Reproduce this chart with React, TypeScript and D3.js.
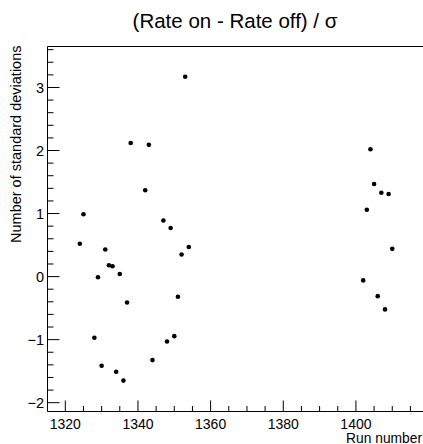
import React from "react";
import * as d3 from "d3";

const runs = [1324, 1325, 1328, 1329, 1330, 1331, 1332, 1333, 1334, 1335, 1336, 1337, 1338, 1342, 1343, 1344, 1347, 1348, 1349, 1350, 1351, 1352, 1353, 1354, 1402, 1403, 1404, 1405, 1406, 1407, 1408, 1409, 1410];
const deviations = [0.52, 0.99, -0.97, -0.01, -1.415, 0.43, 0.18, 0.165, -1.51, 0.04, -1.65, -0.41, 2.12, 1.37, 2.09, -1.325, 0.89, -1.03, 0.77, -0.945, -0.32, 0.35, 3.17, 0.47, -0.06, 1.06, 2.02, 1.47, -0.31, 1.33, -0.52, 1.31, 0.44];
const xMajorTicks = [1320, 1340, 1360, 1380, 1400];
const yMajorTicks = [-2, -1, 0, 1, 2, 3];
const xDomain = [1315.1, 1418.6];
const yDomain = [-2.14, 3.65];

const W = 423, H = 444;
const L = 47.5, R = 423.5, T = 46.5, B = 411.5;
const FONT = "'Liberation Sans', Arial, Helvetica, sans-serif";

export default function App() {
  const x = d3.scaleLinear().domain(xDomain).range([L, R]);
  const y = d3.scaleLinear().domain(yDomain).range([B, T]);
  const xMinor = d3.range(1320, 1419, 5).filter((v) => !xMajorTicks.includes(v) && v > xDomain[0] && v < xDomain[1]);
  const yMinor = d3.range(-2.0, 3.66, 0.2).map((v) => Math.round(v * 10) / 10).filter((v) => !yMajorTicks.includes(v) && v >= yDomain[0] && v <= yDomain[1]);
  const data = runs.map((r, i) => ({ r, v: deviations[i] }));
  return (
    <svg width={W} height={H} style={{ position: "fixed", left: 0, top: 0, background: "#fff" }} fontFamily={FONT}>
      <rect x={0} y={0} width={W} height={H} fill="#fff" />
      <text x={235} y={28} textAnchor="middle" fontSize={20.5} fill="#000">(Rate on - Rate off) / σ</text>
      {/* frame */}
      <line x1={L} x2={R} y1={T} y2={T} stroke="#000" strokeWidth={1} />
      <line x1={L} x2={L} y1={T} y2={B} stroke="#000" strokeWidth={1} />
      <line x1={L} x2={R} y1={B} y2={B} stroke="#000" strokeWidth={1} />
      {/* x ticks */}
      {xMajorTicks.map((t) => (
        <g key={"xm" + t}>
          <line x1={x(t)} x2={x(t)} y1={B} y2={B - 11} stroke="#000" />
          <text x={x(t)} y={429} textAnchor="middle" fontSize={14} fill="#000">{t}</text>
        </g>
      ))}
      {xMinor.map((t) => (
        <line key={"xn" + t} x1={x(t)} x2={x(t)} y1={B} y2={B - 5.5} stroke="#000" />
      ))}
      {/* y ticks */}
      {yMajorTicks.map((t) => (
        <g key={"ym" + t}>
          <line x1={L} x2={L + 12} y1={y(t)} y2={y(t)} stroke="#000" />
          <text x={44} y={y(t)} dy="0.36em" textAnchor="end" fontSize={14.5} fill="#000">{t < 0 ? "\u2212" + Math.abs(t) : t}</text>
        </g>
      ))}
      {yMinor.map((t) => (
        <line key={"yn" + t} x1={L} x2={L + 6} y1={y(t)} y2={y(t)} stroke="#000" />
      ))}
      {/* axis titles */}
      <text x={422} y={442.5} textAnchor="end" fontSize={13.8} fill="#000">Run number</text>
      <text transform={`translate(21,${T - 1}) rotate(-90)`} textAnchor="end" fontSize={14.5} fill="#000">Number of standard deviations</text>
      {/* points */}
      {data.map((d, i) => (
        <circle key={i} cx={x(d.r)} cy={y(d.v)} r={2.3} fill="#000" />
      ))}
    </svg>
  );
}
